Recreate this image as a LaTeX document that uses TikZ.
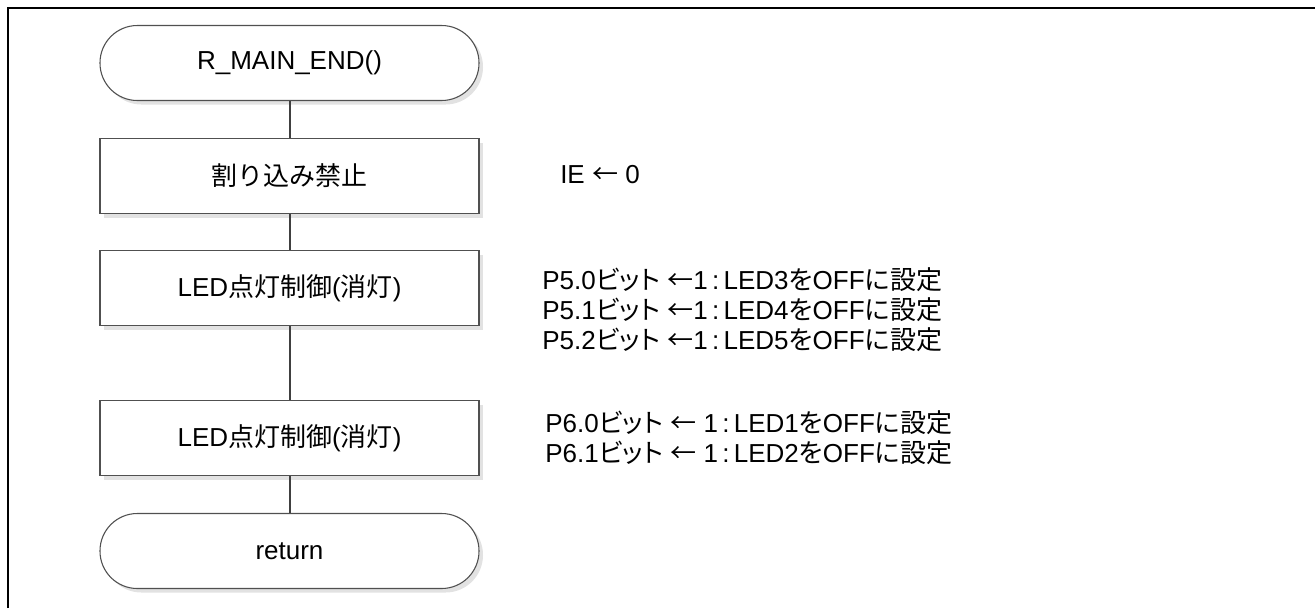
\documentclass[tikz,border=0pt]{standalone}
\usepackage{fontspec}
\setmainfont{Liberation Sans}
\newfontfamily\jp{Noto Sans CJK JP}
\newfontfamily\jpp[RawFeature=+palt]{Noto Sans CJK JP}
\usetikzlibrary{shadows}
\definecolor{edgegray}{HTML}{505050}
\definecolor{linegray}{HTML}{404040}
\definecolor{shadowgray}{HTML}{E2E2E2}
\begin{document}
\begin{tikzpicture}[x=0.75pt,y=-0.75pt,
  every node/.style={font=\fontsize{19.5}{22.5}\selectfont, inner sep=0pt},
  procbox/.style={draw=edgegray, line width=0.8pt, fill=white, minimum width=284.25pt, minimum height=56.25pt,
    drop shadow={shadow xshift=3pt, shadow yshift=-3pt, fill=shadowgray, opacity=1}},
  termbox/.style={procbox, rounded corners=28pt},
  conn/.style={draw=linegray, line width=1.5pt},
  note/.style={anchor=west, align=left}]
\useasboundingbox (0,0) rectangle (1315,608);
% frame (only top and left edges visible)
\draw[line width=1.6pt, black] (8,608) -- (8,8) -- (1315,8);
% flow nodes
\node[termbox] (t1) at (289.5,63) {R\_MAIN\_END()};
\node[procbox] (b1) at (289.5,176) {{\jp 割り込み禁止}};
\node[procbox] (b2) at (289.5,288) {LED{\jp 点灯制御}({\jp 消灯})};
\node[procbox] (b3) at (289.5,438) {LED{\jp 点灯制御}({\jp 消灯})};
\node[termbox] (t2) at (289.5,551) {return};
% connectors
\draw[conn] (t1.south) -- (b1.north);
\draw[conn] (b1.south) -- (b2.north);
\draw[conn] (b2.south) -- (b3.north);
\draw[conn] (b3.south) -- (t2.north);
% notes
\node[note] (n1) at (560,175) {IE {\jp ←} 0};
\node[note] (n2) at (542,310) {P5.0{\jpp ビット} {\jp ←}1\,:\,LED3{\jpp を}OFF{\jp に設定}\\
P5.1{\jpp ビット} {\jp ←}1\,:\,LED4{\jpp を}OFF{\jp に設定}\\
P5.2{\jpp ビット} {\jp ←}1\,:\,LED5{\jpp を}OFF{\jp に設定}};
\node[note] (n3) at (545,438) {P6.0{\jpp ビット} {\jp ←} 1\,:\,LED1{\jpp を}OFF{\jp に設定}\\
P6.1{\jpp ビット} {\jp ←} 1\,:\,LED2{\jpp を}OFF{\jp に設定}};
\end{tikzpicture}
\end{document}
